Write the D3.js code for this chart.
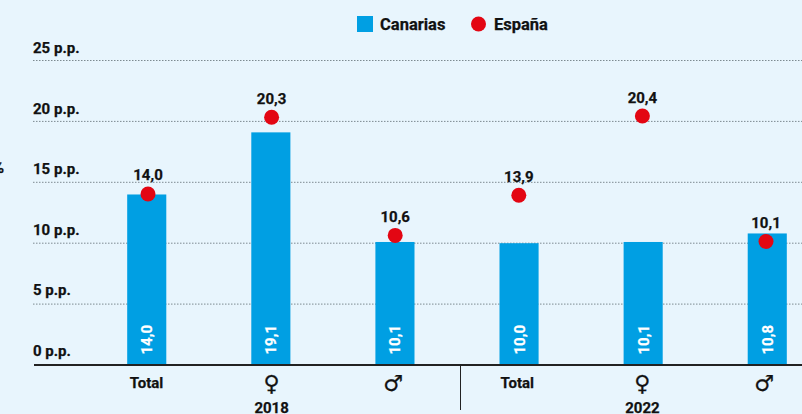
<!DOCTYPE html>
<html>
<head>
<meta charset="utf-8">
<script src="https://cdn.jsdelivr.net/npm/d3@7"></script>
<style>
  html, body { margin: 0; padding: 0; background: #e8f5fd; overflow: hidden; }
  text { font-family: Roboto, "Liberation Sans", sans-serif; font-weight: 700; fill: #111; stroke: #111; stroke-width: 0.25px; }
</style>
</head>
<body>
<div id="chart"></div>
<script>
const categories = ['2018-Total', '2018-F', '2018-M', '2022-Total', '2022-F', '2022-M'];
const groupLabels = ['Total', '♀', '♂', 'Total', '♀', '♂'];
const canarias = [14.0, 19.1, 10.1, 10.0, 10.1, 10.8];
const espana = [14.0, 20.3, 10.6, 13.9, 20.4, 10.1];
const yTicks = [0, 5, 10, 15, 20, 25];
const years = [['2018', '2018-F'], ['2022', '2022-F']];

const fmt = d => d.toFixed(1).replace('.', ',');

const dimensions = { width: 802, height: 414 };

const svg = d3.select('#chart').append('svg')
    .attr('width', dimensions.width)
    .attr('height', dimensions.height)
    .style('display', 'block');

// Scales
const xScale = d3.scaleBand()
    .domain(categories)
    .range([85, 829])
    .paddingInner(0.685)
    .paddingOuter(0.34);

// the dots sit slightly off the bar centres in the original
const dotScale = d3.scalePoint()
    .domain(categories)
    .range([148, 766]);

const yScale = d3.scaleLinear()
    .domain([0, 25])
    .range([365, 60.5]);

const cx = d => xScale(d) + xScale.bandwidth() / 2;

// Clipped character at the left edge of the original
svg.append('text')
    .attr('x', 4).attr('y', 173)
    .attr('text-anchor', 'end')
    .style('font-size', '16px')
    .text('%');

// Grid and y labels
const yAxis = d3.axisLeft(yScale)
    .tickValues(yTicks)
    .tickSize(0)
    .tickFormat(d => `${d} p.p.`);

const yAxisGroup = svg.append('g').call(yAxis);
yAxisGroup.select('.domain').remove();
yAxisGroup.selectAll('.tick text')
    .attr('x', 33)
    .attr('dy', (d, i) => -9.5 + i * 0.3)
    .attr('text-anchor', 'start')
    .style('font-size', '15px')
    .style('font-family', 'Roboto')
    .style('font-weight', 700);

svg.append('g').selectAll('line')
    .data(yTicks.filter(d => d > 0))
    .join('line')
    .attr('x1', 33)
    .attr('x2', 802)
    .attr('y1', d => yScale(d))
    .attr('y2', d => yScale(d))
    .attr('stroke', '#7d8a91')
    .attr('stroke-width', 1)
    .attr('stroke-dasharray', '1.5 1.5');

// Bars
svg.append('g').selectAll('rect')
    .data(categories)
    .join('rect')
    .attr('x', d => xScale(d))
    .attr('y', (d, i) => yScale(canarias[i]))
    .attr('width', xScale.bandwidth())
    .attr('height', (d, i) => yScale(0) - yScale(canarias[i]))
    .attr('fill', '#009fe3');

// Values inside bars
svg.append('g').selectAll('text')
    .data(categories)
    .join('text')
    .attr('transform', d => `translate(${cx(d) + 5.5},354.5) rotate(-90)`)
    .style('font-size', '15px')
    .style('fill', '#fff')
    .style('stroke', '#fff')
    .text((d, i) => fmt(canarias[i]));

// España dots
svg.append('g').selectAll('circle')
    .data(categories)
    .join('circle')
    .attr('cx', d => dotScale(d))
    .attr('cy', (d, i) => yScale(espana[i]) - 0.5)
    .attr('r', 7.5)
    .attr('fill', '#e30613');

svg.append('g').selectAll('text')
    .data(categories)
    .join('text')
    .attr('x', d => dotScale(d))
    .attr('y', (d, i) => yScale(espana[i]) - 14)
    .attr('text-anchor', 'middle')
    .style('font-size', '15px')
    .text((d, i) => fmt(espana[i]));

// Baseline and group separator
svg.append('line')
    .attr('x1', 34).attr('x2', 802)
    .attr('y1', 365).attr('y2', 365)
    .attr('stroke', '#222').attr('stroke-width', 2);

svg.append('line')
    .attr('x1', 460.5).attr('x2', 460.5)
    .attr('y1', 365).attr('y2', 410)
    .attr('stroke', '#222').attr('stroke-width', 1);

// X labels
const labelShift = { 'Total': -1.5, '♀': 0, '♂': -2 };

svg.append('g').selectAll('text')
    .data(categories)
    .join('text')
    .attr('x', (d, i) => dotScale(d) + labelShift[groupLabels[i]])
    .attr('y', (d, i) => groupLabels[i] === 'Total' ? 388 : 391)
    .attr('text-anchor', 'middle')
    .style('font-size', (d, i) => groupLabels[i] === 'Total' ? '15px' : '22px')
    .style('font-family', (d, i) => groupLabels[i] === 'Total' ? 'Roboto' : 'DejaVu Sans')
    .style('font-weight', (d, i) => groupLabels[i] === 'Total' ? 700 : 400)
    .text((d, i) => groupLabels[i]);

svg.append('g').selectAll('text')
    .data(years)
    .join('text')
    .attr('x', d => dotScale(d[1]))
    .attr('y', 413)
    .attr('text-anchor', 'middle')
    .style('font-size', '15px')
    .text(d => d[0]);

// Legend
svg.append('rect')
    .attr('x', 357).attr('y', 16)
    .attr('width', 16).attr('height', 16)
    .attr('fill', '#009fe3');
svg.append('text')
    .attr('x', 380).attr('y', 30)
    .style('font-size', '16.5px')
    .text('Canarias');
svg.append('circle')
    .attr('cx', 478.5).attr('cy', 24)
    .attr('r', 7.5)
    .attr('fill', '#e30613');
svg.append('text')
    .attr('x', 494).attr('y', 30)
    .style('font-size', '16.5px')
    .text('España');
</script>
</body>
</html>
